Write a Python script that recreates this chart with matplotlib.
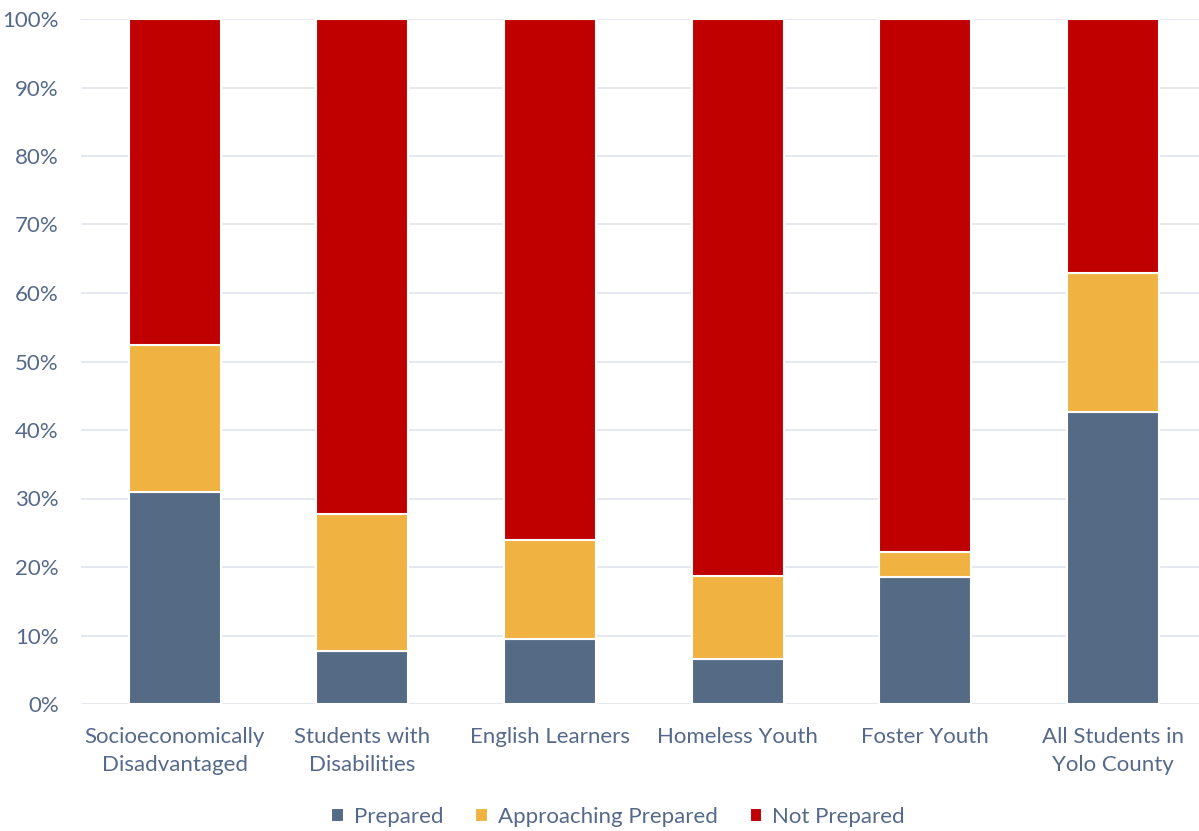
import matplotlib.pyplot as plt
import numpy as np

# Readiness breakdown by student group (percent of students)
groups = ["Socioeconomically\nDisadvantaged", "Students with\nDisabilities", "English Learners",
          "Homeless Youth", "Foster Youth", "All Students in\nYolo County"]
prepared = [30.9, 7.7, 9.5, 6.5, 18.5, 42.7]
approaching = [21.5, 20.1, 14.4, 12.2, 3.7, 20.2]
not_prepared = [100 - p - a for p, a in zip(prepared, approaching)]

series = ["Prepared", "Approaching Prepared", "Not Prepared"]
colors = ["#546A85", "#F0B342", "#C00000"]
text_color = "#55698A"
grid_color = "#E3E7EE"

plt.rcParams["font.family"] = ["Lato", "DejaVu Sans"]

fig = plt.figure(figsize=(11.99, 8.31), dpi=100)
ax = fig.add_axes([81 / 1199, 127 / 831, 1118 / 1199, 685 / 831])

x = np.arange(len(groups))
bottom = np.zeros(len(groups))
for name, vals, col in zip(series, [prepared, approaching, not_prepared], colors):
    ax.bar(x, vals, width=0.49, bottom=bottom, color=col, edgecolor="white",
           linewidth=1.5, label=name, zorder=3)
    bottom += np.array(vals)

ax.set_ylim(0, 100)
ax.set_xlim(-0.5, 5.46)
ax.set_yticks(np.arange(0, 101, 10))
ax.set_yticklabels([f"{v}%" for v in range(0, 101, 10)])
ax.yaxis.grid(True, color=grid_color, linewidth=1.3, zorder=0)
ax.set_xticks(x)
ax.set_xticklabels(groups, linespacing=1.5)
ax.tick_params(axis="both", length=0, labelsize=16, labelcolor=text_color)
ax.tick_params(axis="y", pad=16)
ax.tick_params(axis="x", pad=16.5)
for s in ax.spines.values():
    s.set_visible(False)

fig.legend(loc="center", bbox_to_anchor=(618 / 1199, 14 / 831), ncol=3, frameon=False,
           fontsize=16, labelcolor=text_color, handlelength=0.55, handleheight=0.55,
           handletextpad=0.45, columnspacing=1.45)

fig.savefig("out.png", dpi=100)
